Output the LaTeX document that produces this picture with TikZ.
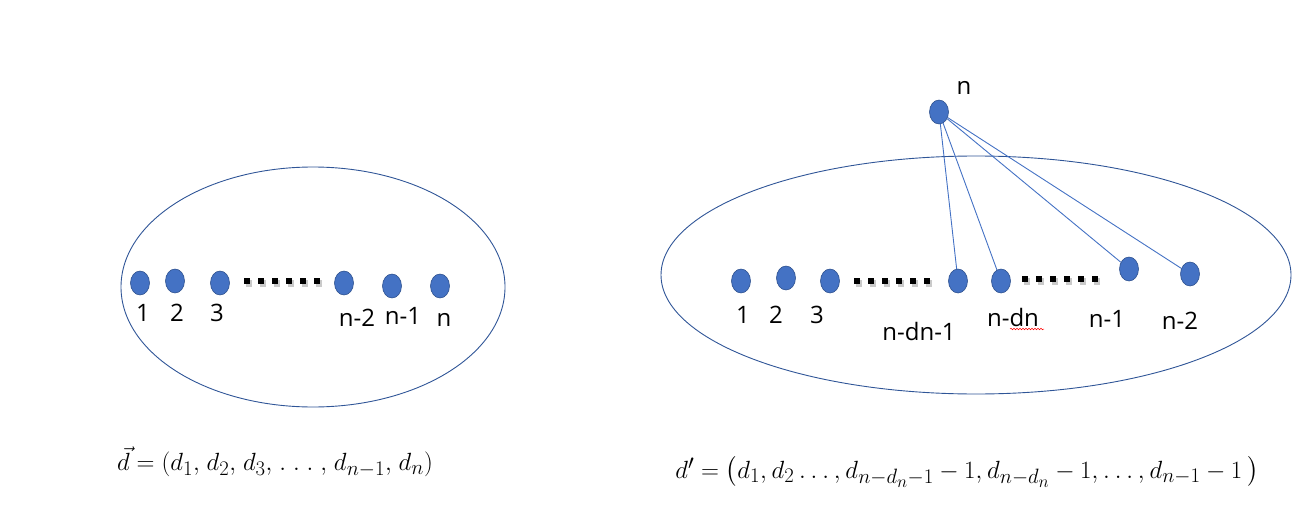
\documentclass[tikz,border=0pt]{standalone}
\usepackage{fontspec}
\usepackage{amsmath}
\newfontfamily\labfont{Open Sans}
\usetikzlibrary{shapes.geometric,decorations.pathmorphing}
\definecolor{dotfill}{HTML}{4472C4}
\definecolor{dotborder}{HTML}{2F528F}
\definecolor{ellcol}{HTML}{2F5597}
\definecolor{conncol}{HTML}{4472C4}
\begin{document}
\begin{tikzpicture}[x=1pt,y=-1pt,
  vdot/.style={ellipse, draw=dotborder, fill=dotfill, minimum width=19pt, minimum height=24pt, inner sep=0pt, line width=0.6pt},
  lab/.style={font=\labfont\fontsize{24}{26}\selectfont, inner sep=0pt},
  eq/.style={font=\fontsize{24.88}{28}\selectfont, inner sep=0pt},
  conn/.style={draw=conncol, line width=0.9pt},
  ell/.style={draw=ellcol, line width=0.9pt},
  squares/.style={line width=6pt, dash pattern=on 6pt off 8pt},
  sqshadow/.style={line width=7pt, dash pattern=on 6pt off 8pt, black!35, opacity=0.6}]
\useasboundingbox (0,0) rectangle (1301,524);
% ---- left graph ----
\draw[ell] (313,287) ellipse [x radius=192, y radius=120];
\node[vdot] (l1) at (140,283) {};
\node[vdot] (l2) at (175,281) {};
\node[vdot] (l3) at (220,283) {};
\node[vdot] (l4) at (344,283) {};
\node[vdot] (l5) at (392,286) {};
\node[vdot] (l6) at (440,286) {};
\coordinate (ls) at (244,281);
\coordinate (le) at (322,281);
\draw[sqshadow] ([shift={(2,2)}]ls) -- ([shift={(2,2)}]le);
\draw[squares] (ls) -- (le);
\node[lab] (t1) at (143,313) {1};
\node[lab] (t2) at (177,313) {2};
\node[lab] (t3) at (217,313) {3};
\node[lab] (t4) at (357,318) {n-2};
\node[lab] (t5) at (403,316) {n-1};
\node[lab] (t6) at (444,320) {n};
\node[eq] (eqL) at (275,462) {$\thinmuskip=5mu\vec{d}=(d_1,d_2,d_3,\dots,d_{n-1},d_n)$};
% ---- right graph ----
\draw[ell] (976,275) ellipse [x radius=315, y radius=119];
\node[vdot] (r1) at (741,281) {};
\node[vdot] (r2) at (786,278) {};
\node[vdot] (r3) at (830,281) {};
\node[vdot] (r4) at (958,281) {};
\node[vdot] (r5) at (1001,281) {};
\node[vdot] (r6) at (1129,269) {};
\node[vdot] (r7) at (1190,274) {};
\node[vdot] (top) at (939,112) {};
\coordinate (rs1) at (854,281);
\coordinate (re1) at (932,281);
\coordinate (rs2) at (1022,279);
\coordinate (re2) at (1100,279);
\draw[sqshadow] ([shift={(2,2)}]rs1) -- ([shift={(2,2)}]re1);
\draw[squares] (rs1) -- (re1);
\draw[sqshadow] ([shift={(2,2)}]rs2) -- ([shift={(2,2)}]re2);
\draw[squares] (rs2) -- (re2);
\draw[conn] (top) -- (r4);
\draw[conn] (top) -- (r5);
\draw[conn] (top) -- (r6);
\draw[conn] (top) -- (r7);
\node[lab] (s1) at (743,315) {1};
\node[lab] (s2) at (776,315) {2};
\node[lab] (s3) at (817,315) {3};
\node[lab] (s4) at (919,331) {n-dn-1};
\node[lab] (s5) at (1013,317) {n-dn};
\node[lab] (s6) at (1107,319) {n-1};
\node[lab] (s7) at (1180,321) {n-2};
\node[lab] (stop) at (964,88) {n};
\coordinate (w1) at (1010,329);
\coordinate (w2) at (1044,329);
\draw[red, line width=0.5pt, decorate, decoration={snake, amplitude=0.8pt, segment length=3pt}] (w1) -- (w2);
\node[eq] (eqR) at (967,472) {$\thinmuskip=3.5mu d'=\bigl(d_1,d_2\dots,d_{n-d_n-1}-1,d_{n-d_n}-1,\dots,d_{n-1}-1\,\bigr)$};
\end{tikzpicture}
\end{document}
